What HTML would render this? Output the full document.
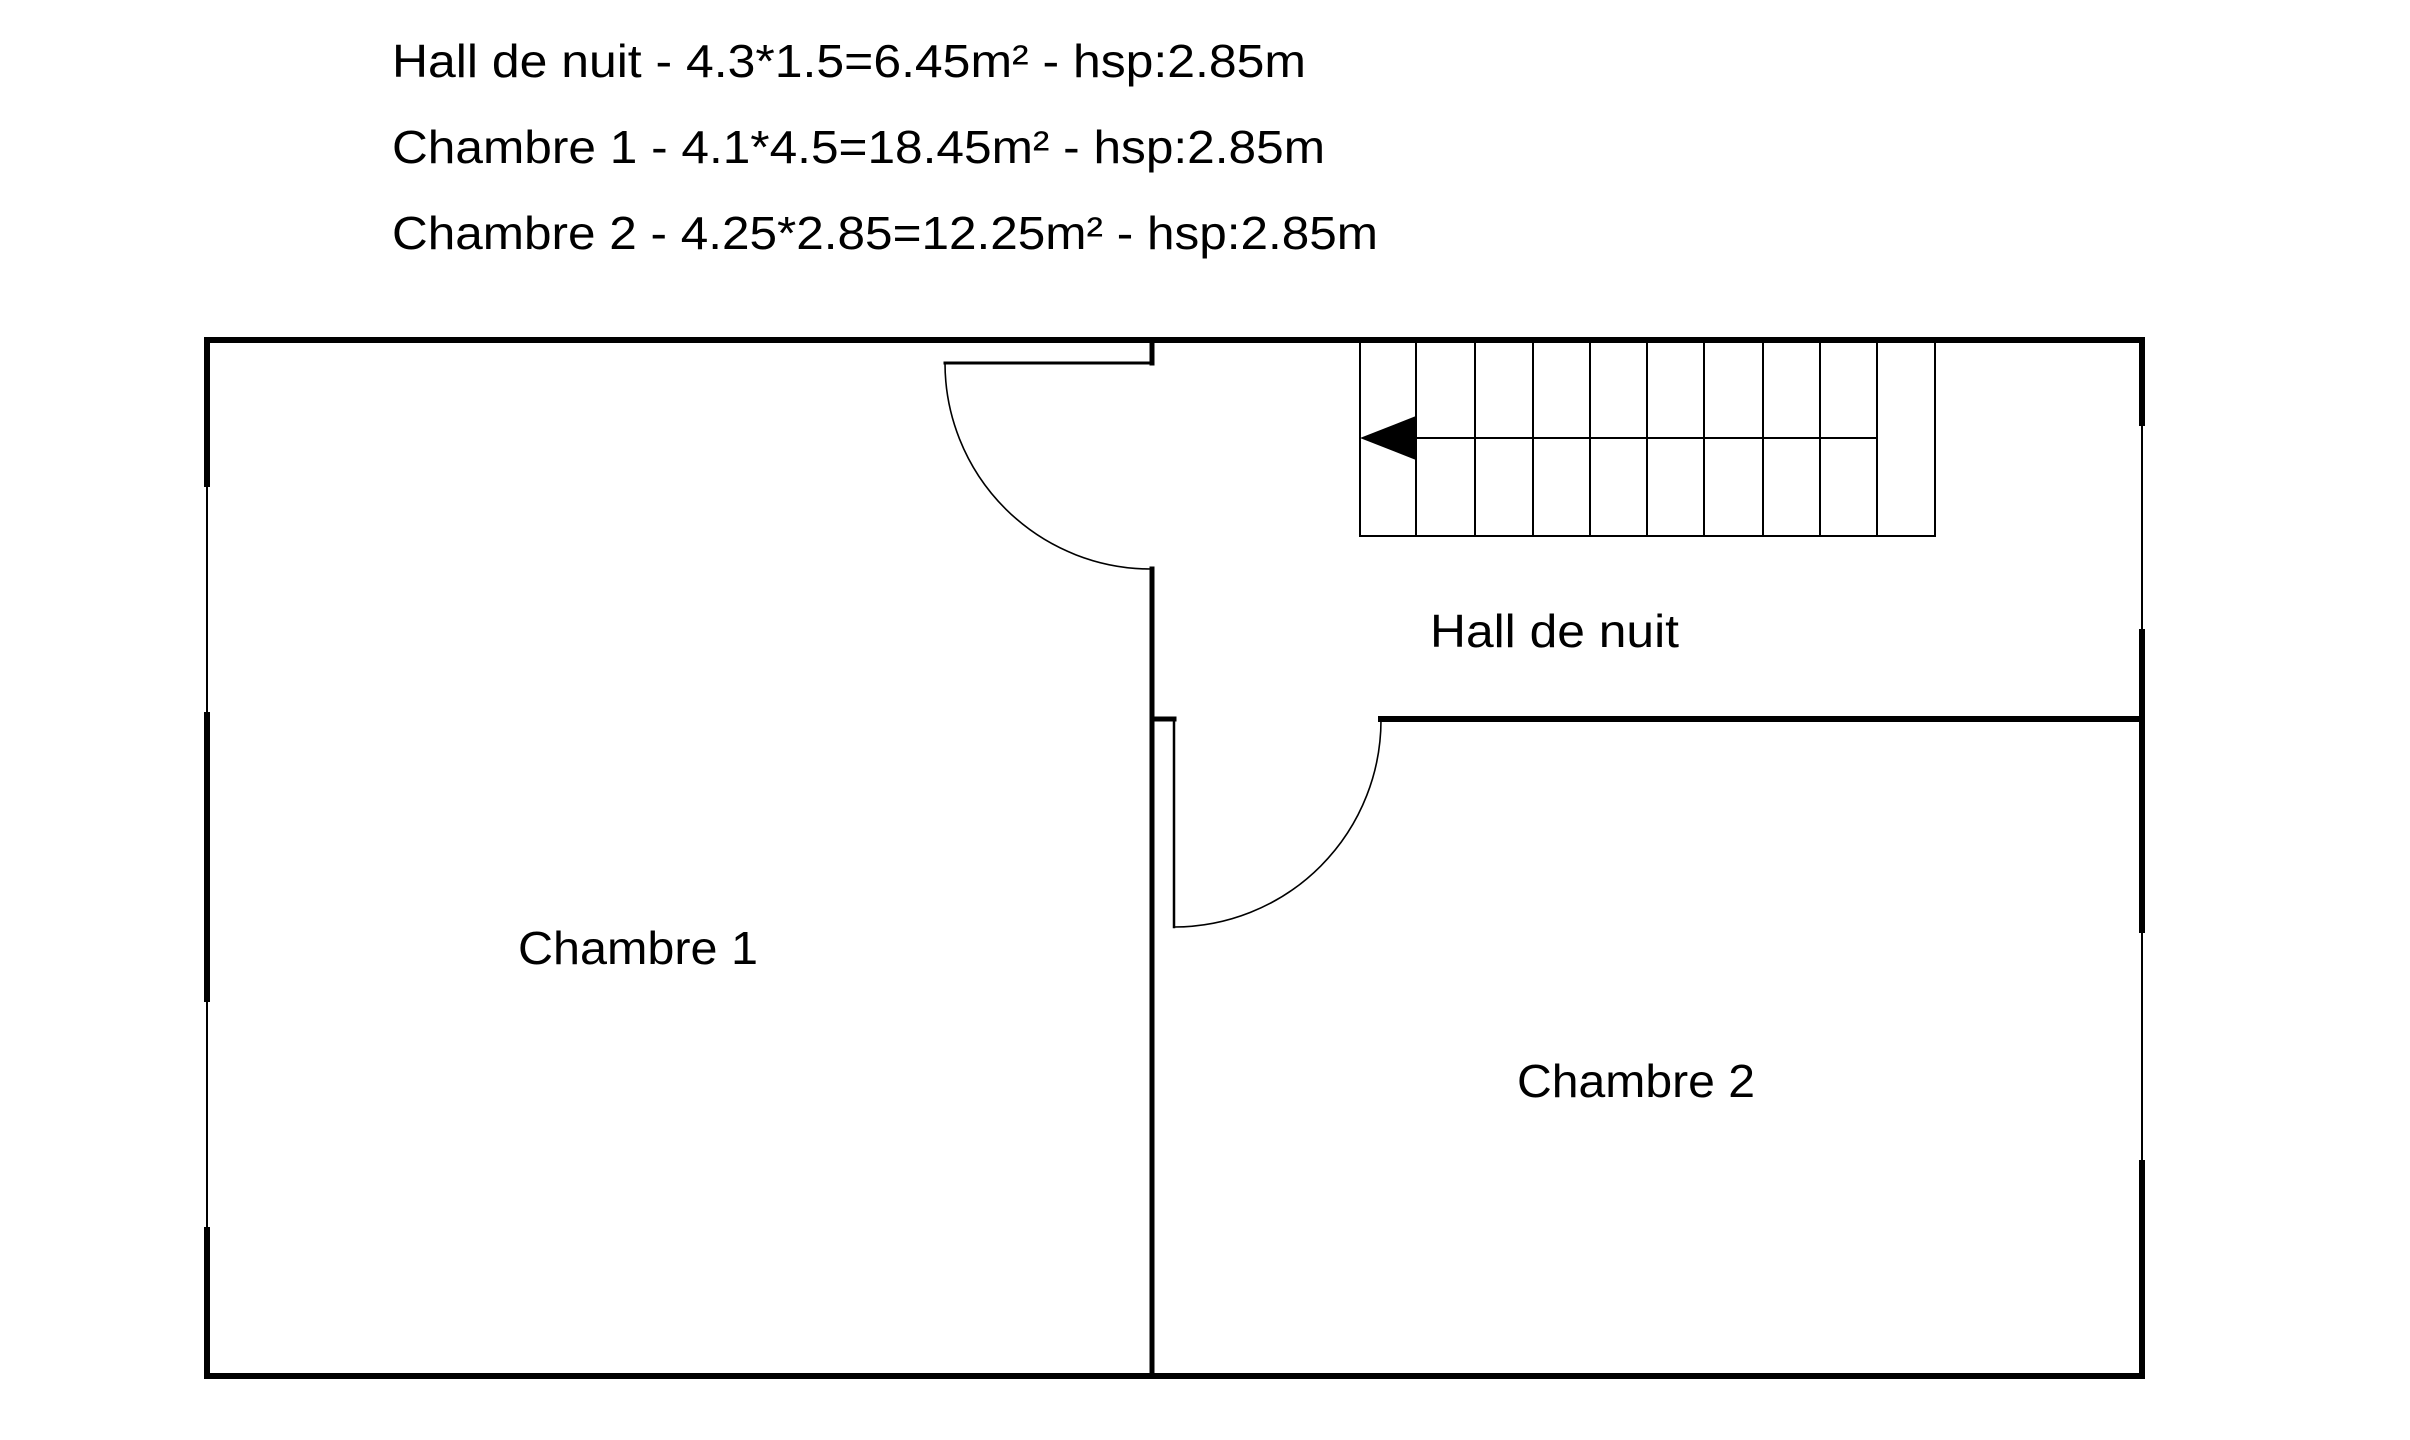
<!DOCTYPE html>
<html><head><meta charset="utf-8"><style>
html,body{margin:0;padding:0;background:#fff;width:2410px;height:1440px;overflow:hidden}
</style></head><body>
<svg width="2410" height="1440" xmlns="http://www.w3.org/2000/svg" font-family="'Liberation Sans', sans-serif" fill="#000">
<g font-size="46">
<text x="392" y="77" textLength="914" lengthAdjust="spacingAndGlyphs">Hall de nuit - 4.3*1.5=6.45m² - hsp:2.85m</text>
<text x="392" y="163" textLength="933" lengthAdjust="spacingAndGlyphs">Chambre 1 - 4.1*4.5=18.45m² - hsp:2.85m</text>
<text x="392" y="249" textLength="986" lengthAdjust="spacingAndGlyphs">Chambre 2 - 4.25*2.85=12.25m² - hsp:2.85m</text>
<text x="1430" y="647" textLength="249" lengthAdjust="spacingAndGlyphs">Hall de nuit</text>
<text x="518" y="964" textLength="240" lengthAdjust="spacingAndGlyphs">Chambre 1</text>
<text x="1517" y="1097" textLength="238" lengthAdjust="spacingAndGlyphs">Chambre 2</text>
</g>
<g stroke="#000" fill="none" stroke-linecap="square">
<!-- outer thin walls -->
<line x1="207" y1="340" x2="207" y2="1376" stroke-width="2"/>
<line x1="2142" y1="340" x2="2142" y2="1376" stroke-width="2"/>
<!-- thick segments -->
<line x1="207" y1="340" x2="2142" y2="340" stroke-width="6"/>
<line x1="207" y1="1376" x2="2142" y2="1376" stroke-width="6"/>
<line x1="207" y1="340" x2="207" y2="484" stroke-width="6"/>
<line x1="207" y1="715" x2="207" y2="999" stroke-width="6"/>
<line x1="207" y1="1230" x2="207" y2="1376" stroke-width="6"/>
<line x1="2142" y1="340" x2="2142" y2="423" stroke-width="6"/>
<line x1="2142" y1="632" x2="2142" y2="930" stroke-width="6"/>
<line x1="2142" y1="1163" x2="2142" y2="1376" stroke-width="6"/>
<!-- middle wall -->
<line x1="1152" y1="340" x2="1152" y2="363" stroke-width="5"/>
<line x1="1152" y1="569" x2="1152" y2="1376" stroke-width="5"/>
<line x1="945" y1="363" x2="1152" y2="363" stroke-width="3"/>
<!-- hall wall -->
<line x1="1381" y1="719" x2="2142" y2="719" stroke-width="6"/>
<line x1="1152" y1="719" x2="1174" y2="719" stroke-width="5"/>
<line x1="1174" y1="719" x2="1174" y2="927" stroke-width="2.5"/>
</g>
<g stroke="#000" fill="none" stroke-width="1.6">
<path d="M945 363 A206 206 0 0 0 1152 569"/>
<path d="M1174 927 A207 207 0 0 0 1381 719"/>
</g>
<g stroke="#000" fill="none" stroke-width="2">
<rect x="1360" y="340" width="575" height="196"/>
<line x1="1416" y1="340" x2="1416" y2="536"/>
<line x1="1475" y1="340" x2="1475" y2="536"/>
<line x1="1533" y1="340" x2="1533" y2="536"/>
<line x1="1590" y1="340" x2="1590" y2="536"/>
<line x1="1647" y1="340" x2="1647" y2="536"/>
<line x1="1704" y1="340" x2="1704" y2="536"/>
<line x1="1763" y1="340" x2="1763" y2="536"/>
<line x1="1820" y1="340" x2="1820" y2="536"/>
<line x1="1877" y1="340" x2="1877" y2="536"/>
<line x1="1416" y1="438" x2="1877" y2="438"/>
</g>
<polygon points="1360,438 1416,416 1416,460" fill="#000"/>
</svg>
</body></html>
